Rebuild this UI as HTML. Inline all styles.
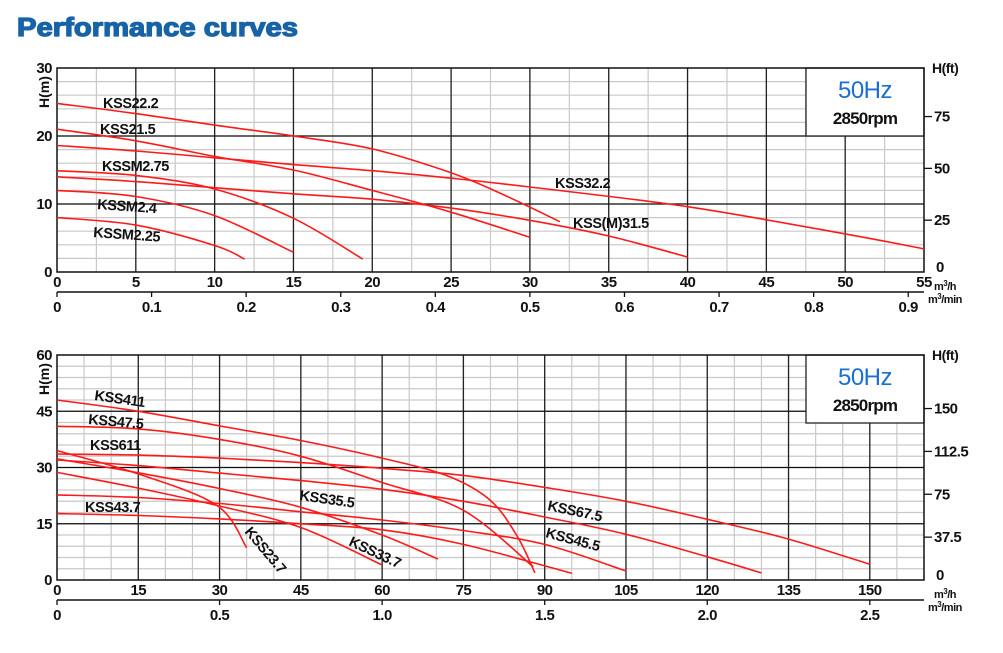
<!DOCTYPE html>
<html><head><meta charset="utf-8"><style>
html,body{margin:0;padding:0;background:#fff;}
svg{display:block;font-family:"Liberation Sans",Arial,sans-serif;}
</style></head><body>
<svg id="root" width="1003" height="653" viewBox="0 0 1003 653">
<text x="17" y="36" font-size="26" font-weight="bold" fill="#1763a6" stroke="#1763a6" stroke-width="1.3" textLength="281" lengthAdjust="spacingAndGlyphs">Performance curves</text>
<g id="c1"></g>
<g id="c2"></g>
</svg>
<script>
// ===== Top chart data =====
const topCurveNames = ["KSS22.2","KSS21.5","KSS32.2","KSSM2.75","KSS(M)31.5","KSSM2.4","KSSM2.25"];
const topQ_KSS22_2 = [0,5,10,15,20,25,28.1,31.9];
const topH_KSS22_2 = [24.8,23.3,21.6,20,18.1,14.6,11.6,7.4];
const topQ_KSS21_5 = [0,5,10,15,20,25,30];
const topH_KSS21_5 = [21,19.3,17,15,12,8.8,5.1];
const topQ_KSS32_2 = [0,5,10,15,20,25,30,40,50,55];
const topH_KSS32_2 = [18.6,17.8,16.8,15.8,14.9,13.8,12.5,9.6,5.6,3.4];
const topQ_KSSM2_75 = [0,5,10,15,19.4];
const topH_KSSM2_75 = [14.9,14.2,12.2,7.9,1.9];
const topQ_KSSM31_5 = [0,5,10,15,20,25,30,35,40];
const topH_KSSM31_5 = [14,13.3,12.4,11.5,10.7,9.4,7.6,5.3,2.2];
const topQ_KSSM2_4 = [0,5,10,15];
const topH_KSSM2_4 = [12,11.1,8.3,2.9];
const topQ_KSSM2_25 = [0,5,10,11.9];
const topH_KSSM2_25 = [8,6.9,3.9,1.9];
const topXTicks = [0,5,10,15,20,25,30,35,40,45,50,55];
const topYTicks = [0,10,20,30];
const topFtTicks = [0,25,50,75];
const topMinTicks = ["0","0.1","0.2","0.3","0.4","0.5","0.6","0.7","0.8","0.9"];

// ===== Bottom chart data =====
const botCurveNames = ["KSS411","KSS47.5","KSS611","KSS67.5","KSS23.7","KSS35.5","KSS33.7","KSS45.5","KSS43.7"];
const botQ_KSS411 = [0,15,30,45,60,72,80,85,88.2];
const botH_KSS411 = [48,45,41.1,37.2,32.5,27.8,21.2,11.5,1.9];
const botQ_KSS47_5 = [0,15,30,45,60,75,87.9];
const botH_KSS47_5 = [41,40.3,37.5,33,26,18.6,3.5];
const botQ_KSS611 = [0,15,30,45,60,75,90,105,120,135,150];
const botH_KSS611 = [33.6,33.3,32.5,31.3,29.8,27.9,24.7,21,16.2,10.9,4.2];
const botQ_KSS67_5 = [0,15,30,45,60,75,90,105,120,130];
const botH_KSS67_5 = [32,30.5,28.5,26.5,24.2,21,16.8,12.2,6.2,1.9];
const botQ_KSS23_7 = [0,15,29.5,35];
const botH_KSS23_7 = [34.5,28.3,19.9,8.6];
const botQ_KSS35_5 = [0,15,30,45,60,70.3];
const botH_KSS35_5 = [32.3,28.6,24.4,19.4,12,5.6];
const botQ_KSS33_7 = [0,15,29.5,45,60];
const botH_KSS33_7 = [28.7,24.5,19.9,14,4];
const botQ_KSS45_5 = [0,15,30,45,60,75,90,105];
const botH_KSS45_5 = [22.7,22,20.4,18.2,16,13.2,9.5,2.4];
const botQ_KSS43_7 = [0,15,30,45,60,75,95];
const botH_KSS43_7 = [17.7,17.2,16.3,15,13.4,9.5,1.8];
const botXTicks = [0,15,30,45,60,75,90,105,120,135,150];
const botYTicks = [0,15,30,45,60];
const botFtTicks = [0,37.5,75,112.5,150];
const botMinTicks = ["0","0.5","1.0","1.5","2.0","2.5"];

const NS = "http://www.w3.org/2000/svg";
function mk(parent, tag, attrs, text) {
  const e = document.createElementNS(NS, tag);
  for (const k in attrs) e.setAttribute(k, attrs[k]);
  if (text !== undefined) e.textContent = text;
  parent.appendChild(e);
  return e;
}
function smoothPath(pts) {
  let d = "M" + pts[0][0].toFixed(1) + "," + pts[0][1].toFixed(1);
  for (let i = 0; i < pts.length - 1; i++) {
    const p0 = pts[i - 1] || pts[i], p1 = pts[i], p2 = pts[i + 1], p3 = pts[i + 2] || p2;
    const c1 = [p1[0] + (p2[0] - p0[0]) / 6, p1[1] + (p2[1] - p0[1]) / 6];
    const c2 = [p2[0] - (p3[0] - p1[0]) / 6, p2[1] - (p3[1] - p1[1]) / 6];
    d += " C" + c1.map(v => v.toFixed(1)).join(",") + " " + c2.map(v => v.toFixed(1)).join(",") + " " + p2[0].toFixed(1) + "," + p2[1].toFixed(1);
  }
  return d;
}

function drawChart(g, cfg) {
  const X = q => cfg.x0 + (q / cfg.qMax) * (cfg.x1 - cfg.x0);
  const Y = h => cfg.y0 - (h / cfg.hMax) * (cfg.y0 - cfg.y1);
  for (let q = cfg.qMinor; q < cfg.qMax; q += cfg.qMinor) {
    const l = mk(g, "line", {x1: X(q), x2: X(q), y1: cfg.y1, y2: cfg.y0, stroke: "#c9c9c9", "stroke-width": 1.2});
    
    
  }
  for (let h = cfg.hMinor; h < cfg.hMax; h += cfg.hMinor) {
    const l = mk(g, "line", {x1: cfg.x0, x2: cfg.x1, y1: Y(h), y2: Y(h), stroke: "#c9c9c9", "stroke-width": 1.2});
    
    
  }
  cfg.xTicks.forEach(q => {
    if (q <= 0 || q >= cfg.qMax) return;
    const l = mk(g, "line", {x1: X(q), x2: X(q), y1: cfg.y1, y2: cfg.y0, stroke: "#222", "stroke-width": 1.3});
    
    
  });
  cfg.yTicks.forEach(h => {
    if (h <= 0 || h >= cfg.hMax) return;
    const l = mk(g, "line", {x1: cfg.x0, x2: cfg.x1, y1: Y(h), y2: Y(h), stroke: "#111", "stroke-width": 1.3});
    
    
  });
  const box = mk(g, "rect", {x: cfg.boxX, y: cfg.y1, width: cfg.x1 - cfg.boxX, height: cfg.boxH, fill: "#fff", stroke: "#222", "stroke-width": 1.3});
  
  
  const hz = mk(g, "text", {x: (cfg.boxX + cfg.x1) / 2, y: cfg.y1 + 30, "text-anchor": "middle", "font-size": 24, fill: "#1a6fd0", "letter-spacing": "-0.5"}, "50Hz");
  
  
  const rpm = mk(g, "text", {x: (cfg.boxX + cfg.x1) / 2, y: cfg.y1 + 56, "text-anchor": "middle", "font-size": 17, "font-weight": "bold", fill: "#111", "letter-spacing": "-0.8"}, "2850rpm");
  
  
  const fr = mk(g, "rect", {x: cfg.x0, y: cfg.y1, width: cfg.x1 - cfg.x0, height: cfg.y0 - cfg.y1, fill: "none", stroke: "#111", "stroke-width": 1.5});
  
  
  cfg.curves.forEach(c => {
    const pts = c.q.map((q, i) => [X(q), Y(c.h[i])]);
    const p = mk(g, "path", {d: smoothPath(pts), fill: "none", stroke: "#ff1a1a", "stroke-width": 1.6});
    
    
  });
  cfg.labels.forEach(lb => {
    const t = mk(g, "text", {x: lb[1], y: lb[2], "font-size": 14.5, "font-weight": "bold", fill: "#111", "letter-spacing": "-0.4", transform: "rotate(" + lb[3] + " " + lb[1] + " " + lb[2] + ")"}, lb[0]);
    
    
  });
  cfg.yTicks.forEach(h => {
    const t = mk(g, "text", {x: cfg.x0 - 5, y: Y(h) + 5, "text-anchor": "end", "font-size": 15, "font-weight": "bold", fill: "#111", "letter-spacing": "-0.5"}, String(h));
    
    
  });
  const yt = mk(g, "text", {x: 0, y: 0, "font-size": 14, "font-weight": "bold", fill: "#111", transform: "translate(" + (cfg.x0 - 8) + "," + (cfg.y1 + 40) + ") rotate(-90)"}, "H(m)");
  
  
  cfg.xTicks.forEach(q => {
    const t = mk(g, "text", {x: X(q), y: cfg.y0 + 15, "text-anchor": "middle", "font-size": 15, "font-weight": "bold", fill: "#111", "letter-spacing": "-0.5"}, String(q));
    
    
  });
  cfg.ftTicks.forEach(f => {
    const y = Y(f * 0.3048);
    if (f > 0) {
      const l = mk(g, "line", {x1: cfg.x1, x2: cfg.x1 + 8, y1: y, y2: y, stroke: "#111", "stroke-width": 1.3});
      
      
    }
    const t = mk(g, "text", {x: f > 0 ? cfg.x1 + 10 : cfg.x1 + 12, y: y + (f > 0 ? 5 : 0), "font-size": 15, "font-weight": "bold", fill: "#111", "letter-spacing": "-0.5"}, String(f));
    
    
  });
  const ft = mk(g, "text", {x: cfg.x1 + 8, y: cfg.y1 + 5, "font-size": 14, "font-weight": "bold", fill: "#111", "letter-spacing": "-0.5"}, "H(ft)");
  
  
  const ay = cfg.y0 + 20;
  const al = mk(g, "line", {x1: cfg.x0, x2: cfg.x1, y1: ay, y2: ay, stroke: "#111", "stroke-width": 1.5});
  
  
  cfg.minTicks.forEach(s => {
    const x = X(parseFloat(s) * 60);
    const l = mk(g, "line", {x1: x, x2: x, y1: ay, y2: ay + 5, stroke: "#111", "stroke-width": 1.3});
    
    
    const t = mk(g, "text", {x: x, y: ay + 20, "text-anchor": "middle", "font-size": 15, "font-weight": "bold", fill: "#111", "letter-spacing": "-0.5"}, s);
    
    
  });
  const u1 = mk(g, "text", {x: cfg.x1 + 10, y: cfg.y0 + 18, "font-size": 11, "font-weight": "bold", fill: "#111", "letter-spacing": "-0.5"});
  u1.innerHTML = 'm<tspan dy="-4" font-size="8">3</tspan><tspan dy="4">/h</tspan>';
  
  
  const u2 = mk(g, "text", {x: cfg.x1 + 4, y: cfg.y0 + 31, "font-size": 11, "font-weight": "bold", fill: "#111", "letter-spacing": "-0.5"});
  u2.innerHTML = 'm<tspan dy="-4" font-size="8">3</tspan><tspan dy="4">/min</tspan>';
  
  
}

drawChart(document.getElementById("c1"), {
  x0: 57, x1: 924, y0: 272, y1: 68, qMax: 55, hMax: 30, qMinor: 2.5, hMinor: 2,
  boxX: 806, boxH: 68,
  xTicks: topXTicks, yTicks: topYTicks, ftTicks: topFtTicks, minTicks: topMinTicks,
  curves: [
    {name: topCurveNames[0], q: topQ_KSS22_2, h: topH_KSS22_2},
    {name: topCurveNames[1], q: topQ_KSS21_5, h: topH_KSS21_5},
    {name: topCurveNames[2], q: topQ_KSS32_2, h: topH_KSS32_2},
    {name: topCurveNames[3], q: topQ_KSSM2_75, h: topH_KSSM2_75},
    {name: topCurveNames[4], q: topQ_KSSM31_5, h: topH_KSSM31_5},
    {name: topCurveNames[5], q: topQ_KSSM2_4, h: topH_KSSM2_4},
    {name: topCurveNames[6], q: topQ_KSSM2_25, h: topH_KSSM2_25}
  ],
  labels: [
    ["KSS22.2", 103, 108, 0], ["KSS21.5", 100, 134, 0], ["KSSM2.75", 102, 171, 0],
    ["KSSM2.4", 97, 209, 4], ["KSSM2.25", 93, 237, 4], ["KSS32.2", 555, 188, 0], ["KSS(M)31.5", 573, 228, 0]
  ]
});

drawChart(document.getElementById("c2"), {
  x0: 57, x1: 924, y0: 580, y1: 355, qMax: 160, hMax: 60, qMinor: 5, hMinor: 3,
  boxX: 806, boxH: 68,
  xTicks: botXTicks, yTicks: botYTicks, ftTicks: botFtTicks, minTicks: botMinTicks,
  curves: [
    {name: botCurveNames[0], q: botQ_KSS411, h: botH_KSS411},
    {name: botCurveNames[1], q: botQ_KSS47_5, h: botH_KSS47_5},
    {name: botCurveNames[2], q: botQ_KSS611, h: botH_KSS611},
    {name: botCurveNames[3], q: botQ_KSS67_5, h: botH_KSS67_5},
    {name: botCurveNames[4], q: botQ_KSS23_7, h: botH_KSS23_7},
    {name: botCurveNames[5], q: botQ_KSS35_5, h: botH_KSS35_5},
    {name: botCurveNames[6], q: botQ_KSS33_7, h: botH_KSS33_7},
    {name: botCurveNames[7], q: botQ_KSS45_5, h: botH_KSS45_5},
    {name: botCurveNames[8], q: botQ_KSS43_7, h: botH_KSS43_7}
  ],
  labels: [
    ["KSS411", 94, 400, 8], ["KSS47.5", 88, 424, 5], ["KSS611", 90, 450, 0], ["KSS43.7", 85, 512, 0],
    ["KSS35.5", 299, 500, 8], ["KSS23.7", 244, 532, 50], ["KSS33.7", 348, 545, 25],
    ["KSS67.5", 547, 510, 12], ["KSS45.5", 545, 537, 15]
  ]
});
</script>
</body></html>
